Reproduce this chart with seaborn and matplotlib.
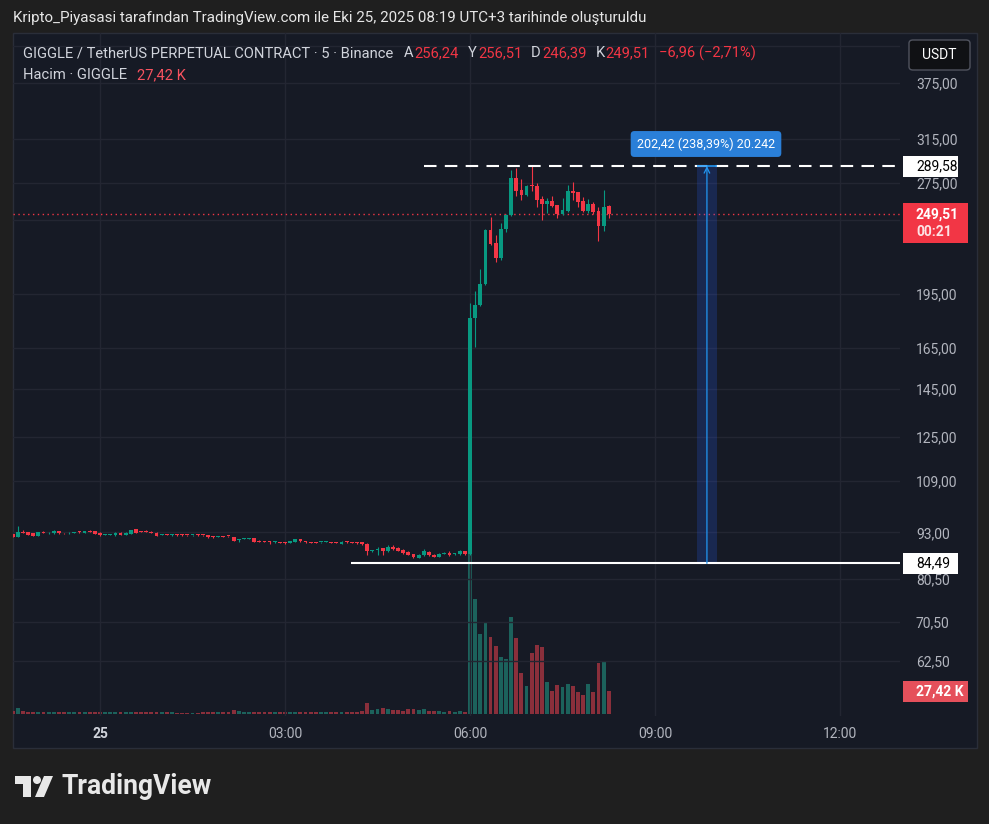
import numpy as np
import pandas as pd
import matplotlib
matplotlib.use('Agg')
import matplotlib.pyplot as plt
import seaborn as sns
from matplotlib.patches import Rectangle, FancyBboxPatch, Polygon, Ellipse

sns.set_theme(style='dark')
plt.rcParams['font.family'] = ['Roboto', 'DejaVu Sans']

W, H = 989, 824
BG = '#1f1f1f'
PANE = '#161a25'
GRID = '#232632'
TXT = '#b2b5be'
LIGHT = '#d1d4dc'
UP = '#089981'
DOWN = '#f23645'
VUP = '#1c625c'
VDOWN = '#8a2f3b'

# GIGGLE/USDT perpetual, 5 min candles from 24 Oct 22:35 (UTC+3)
start = '2025-10-24 22:35'
opens = [
    92.5, 91.8, 93.1, 93.0, 92.7, 92.1, 93.1, 92.7, 92.7, 93.4,
    92.8, 92.7, 92.9, 93.2, 92.9, 93.3, 93.4, 92.9, 92.3, 92.4,
    92.2, 92.9, 92.3, 92.6, 94.0, 93.3, 93.3, 93.2, 92.9, 92.3,
    92.5, 92.3, 92.4, 92.3, 92.3, 92.2, 92.3, 92.3, 92.3, 91.8,
    91.8, 92.0, 92.0, 91.7, 90.9, 91.1, 91.1, 91.4, 90.6, 90.5,
    90.4, 90.2, 90.3, 90.2, 90.0, 90.3, 91.0, 90.5, 90.3, 90.1,
    90.2, 90.3, 90.3, 90.1, 89.7, 90.3, 90.2, 90.2, 90.3, 89.8,
    87.7, 88.1, 88.5, 87.7, 89.0, 88.7, 88.1, 87.6, 87.0, 86.0,
    86.6, 87.6, 86.8, 86.3, 87.1, 87.3, 86.9, 86.9, 87.7,
    86.9, 181.0, 188.0, 200.9, 237.5, 228.0, 217.8, 238.0, 248.9, 279.1,
    268.9, 264.8, 272.5, 272.3, 261.5, 257.5, 260.1, 256.7, 249.6, 252.0,
    268.1, 267.3, 259.9, 252.0, 257.5, 252.0, 240.5, 256.24,
]
highs = [
    92.6, 94.9, 93.6, 93.1, 92.9, 93.2, 93.3, 93.0, 93.6, 93.5,
    92.9, 93.0, 93.2, 93.5, 93.5, 93.6, 93.5, 93.0, 92.6, 92.6,
    93.1, 93.0, 93.0, 93.8, 94.1, 93.4, 93.6, 93.3, 93.1, 92.5,
    92.6, 92.5, 92.5, 92.5, 92.4, 92.4, 92.5, 92.4, 92.4, 91.9,
    92.0, 92.1, 92.1, 91.8, 91.2, 91.3, 91.5, 91.5, 90.8, 90.6,
    90.5, 90.5, 90.4, 90.3, 90.7, 91.2, 91.1, 90.6, 90.4, 90.2,
    90.4, 90.5, 90.4, 90.2, 90.5, 90.6, 90.3, 90.3, 90.4, 89.9,
    88.2, 89.0, 88.6, 89.4, 89.4, 88.8, 88.3, 87.7, 87.1, 87.0,
    88.3, 87.8, 86.9, 87.2, 87.6, 87.8, 87.2, 88.1, 87.8,
    189.6, 196.8, 210.5, 238.5, 247.1, 233.9, 243.0, 250.0, 286.1, 287.9,
    278.3, 273.5, 289.58, 274.6, 264.0, 262.6, 264.0, 257.0, 262.6, 273.1,
    275.7, 267.5, 263.2, 261.5, 259.1, 255.3, 268.9, 256.51,
]
lows = [
    91.7, 91.8, 92.8, 92.2, 92.0, 92.0, 92.8, 92.6, 92.6, 92.6,
    92.6, 92.6, 92.8, 92.9, 92.8, 93.1, 92.5, 92.1, 92.2, 92.3,
    92.1, 92.2, 92.2, 92.5, 92.8, 93.1, 93.0, 92.8, 92.0, 92.2,
    92.2, 92.1, 92.0, 92.1, 92.1, 92.1, 92.1, 92.1, 91.5, 91.5,
    91.7, 91.6, 91.8, 90.6, 90.2, 91.0, 91.0, 90.3, 90.3, 90.3,
    89.8, 90.1, 89.9, 89.7, 89.9, 90.2, 90.4, 90.1, 89.9, 89.9,
    90.1, 90.2, 89.9, 89.9, 89.6, 90.1, 90.0, 89.8, 89.5, 86.6,
    87.6, 86.6, 86.6, 87.6, 88.2, 87.8, 87.1, 86.7, 85.8, 85.9,
    86.5, 86.5, 86.2, 86.2, 87.0, 86.5, 86.8, 86.8, 86.8,
    86.8, 165.4, 187.5, 200.5, 227.0, 215.3, 216.5, 236.0, 248.0, 264.3,
    260.7, 264.0, 268.3, 255.3, 245.1, 250.7, 255.3, 246.8, 248.9, 251.2,
    260.7, 255.3, 251.5, 250.7, 249.6, 229.6, 236.8, 246.39,
]
closes = [
    91.8, 93.1, 92.9, 92.3, 92.1, 93.1, 92.9, 92.9, 93.4, 92.7,
    92.7, 92.9, 93.1, 93.0, 93.4, 93.2, 92.6, 92.2, 92.4, 92.5,
    92.9, 92.3, 92.9, 93.7, 92.9, 93.2, 93.1, 92.9, 92.1, 92.4,
    92.3, 92.4, 92.2, 92.2, 92.2, 92.3, 92.2, 92.2, 91.6, 91.6,
    91.9, 91.8, 91.9, 90.7, 91.1, 91.2, 91.4, 90.4, 90.4, 90.4,
    90.2, 90.4, 90.0, 90.0, 90.6, 91.0, 90.5, 90.2, 90.0, 90.0,
    90.3, 90.4, 90.0, 90.0, 90.3, 90.2, 90.1, 90.1, 89.6, 87.7,
    88.1, 88.3, 87.8, 89.0, 88.3, 87.9, 87.2, 86.8, 86.3, 86.8,
    87.7, 86.6, 86.3, 87.1, 87.3, 86.6, 87.1, 87.7, 86.9,
    181.0, 188.3, 200.9, 237.5, 227.7, 217.8, 238.1, 248.9, 279.1, 268.1,
    264.8, 272.3, 272.0, 260.7, 257.5, 260.1, 256.1, 249.6, 252.8, 268.1,
    266.7, 259.3, 252.0, 257.5, 251.2, 240.5, 255.1, 249.51,
]
# volume in thousands
volumes = [
    3.5, 7.2, 3.6, 2.4, 2.4, 2.4, 2.2, 2.4, 2.6, 2.4,
    2.2, 2.4, 2.4, 2.6, 2.4, 2.2, 2.6, 2.4, 2.2, 2.0,
    2.4, 2.4, 2.6, 3.0, 2.8, 2.2, 2.2, 2.0, 2.4, 2.0,
    2.2, 2.0, 1.8, 1.6, 1.4, 1.6, 1.8, 2.0, 2.6, 2.2,
    2.0, 2.0, 2.2, 4.8, 3.2, 2.4, 2.6, 3.0, 2.4, 2.2,
    2.4, 2.2, 2.4, 2.2, 2.6, 2.8, 2.4, 2.2, 2.4, 2.0,
    2.2, 2.0, 2.4, 2.2, 2.6, 2.2, 2.0, 2.2, 3.2, 13.0,
    5.0, 6.5, 7.5, 6.0, 5.0, 4.5, 4.0, 5.5, 6.0, 5.0,
    5.5, 4.0, 3.5, 4.0, 3.0, 3.5, 3.0, 3.3, 2.7,
    199.0, 138.5, 96.3, 110.8, 92.7, 81.8, 68.5, 66.1, 116.8, 91.4,
    49.2, 33.5, 73.3, 83.0, 80.6, 38.3, 27.4, 34.7, 32.3, 35.9,
    33.5, 26.2, 22.6, 35.9, 26.2, 61.2, 63.7, 27.42,
]

# grid levels of the price scale; 420 and 245 sit under the USDT button / last price tag
price_ticks = [420, 375, 315, 275, 245, 195, 165, 145, 125, 109, 93, 80.5, 70.5, 62.5]
hidden_ticks = [420, 245]
time_ticks = ['2025-10-25 00:00', '2025-10-25 03:00', '2025-10-25 06:00',
              '2025-10-25 09:00', '2025-10-25 12:00']
time_labels = ['25', '03:00', '06:00', '09:00', '12:00']

high_mark = 289.58
low_mark = 84.49
last_price = 249.51
last_vol = 27.42
high_line_from = '2025-10-25 05:15'
low_line_from = '2025-10-25 04:04'
measure_from = '2025-10-25 09:41'
measure_to = '2025-10-25 10:00'

day = pd.Timestamp('2025-10-25')
step = pd.Timedelta(minutes=5)


def to_x(t):
    return (pd.Timestamp(t) - day) / step


def fmt(v):
    return f'{v:.2f}'.replace('.', ',')


df = pd.DataFrame({'open': opens, 'high': highs, 'low': lows,
                   'close': closes, 'volume': volumes})
df['time'] = pd.date_range(start, periods=len(df), freq='5min')
df['x'] = (df['time'] - day) / step
df['dir'] = np.where(df['close'] >= df['open'], 'up', 'down')

x_lo, x_hi = -16.93, 155.67
y_lo, y_hi = 52.64, 437.6

fig = plt.figure(figsize=(W / 100, H / 100), dpi=100, facecolor=BG)
renderer = fig.canvas.get_renderer()

# chart pane
fig.add_artist(Rectangle((13 / W, 1 - 748 / H), 964 / W, 715 / H,
                         transform=fig.transFigure, fc=PANE, ec='#2a2e39',
                         lw=1, zorder=-1))

rect = [13 / W, 1 - 716 / H, 887 / W, 683 / H]
axv = fig.add_axes(rect)
ax = fig.add_axes(rect)
for a in (axv, ax):
    a.set_facecolor('none')
    for s in a.spines.values():
        s.set_visible(False)

# volume overlay
sns.barplot(data=df, x='x', y='volume', hue='dir',
            palette={'up': VUP, 'down': VDOWN}, native_scale=True,
            width=0.75, dodge=False, legend=False, errorbar=None,
            saturation=1, linewidth=0, edgecolor='none', ax=axv)
axv.set_xlim(x_lo, x_hi)
axv.set_ylim(-2.4, 822)
axv.axis('off')

# candles
cols = df['dir'].map({'up': UP, 'down': DOWN}).tolist()
body_lo = df[['open', 'close']].min(axis=1)
body_h = np.maximum((df['close'] - df['open']).abs(), df['close'] * 0.003)
ax.set_yscale('log')
ax.vlines(df['x'], df['low'], df['high'], colors=cols, lw=0.8, zorder=3)
ax.bar(df['x'], body_h, bottom=body_lo, width=0.74, color=cols, lw=0, zorder=3)

ax.set_xlim(x_lo, x_hi)
ax.set_ylim(y_lo, y_hi)
ax.set_yticks(price_ticks,
              labels=['' if v in hidden_ticks else fmt(v) for v in price_ticks])
ax.minorticks_off()
ax.yaxis.tick_right()
ax.set_xticks([to_x(t) for t in time_ticks], labels=time_labels)
ax.tick_params(axis='y', length=0, pad=11.5, labelsize=10, labelcolor=TXT)
ax.tick_params(axis='x', length=0, pad=8, labelsize=10, labelcolor=TXT)
ax.get_xticklabels()[0].set_fontweight('bold')
ax.get_xticklabels()[0].set_color(LIGHT)
ax.grid(True, color=GRID, lw=1)
ax.set_axisbelow(True)
ax.set_xlabel('')
ax.set_ylabel('')

# horizontal drawings
ax.hlines(high_mark, to_x(high_line_from), x_hi - 0.6, colors='white',
          linestyles=(0, (6, 4)), lw=1.5, zorder=4)
ax.hlines(low_mark, to_x(low_line_from), x_hi, colors='white', lw=1.5, zorder=4)
ax.axhline(last_price, color=DOWN, lw=1, ls=(0, (1, 2.5)), zorder=2)

# measure tool
m0, m1 = to_x(measure_from), to_x(measure_to)
mid = (m0 + m1) / 2
ax.add_patch(Rectangle((m0, low_mark), m1 - m0, high_mark - low_mark,
                       fc='#2962ff', alpha=0.2, lw=0, zorder=2))
ax.hlines(high_mark, m0, m1, colors='#2196f3', lw=1.2, zorder=5)
ax.annotate('', xy=(mid, high_mark), xytext=(mid, low_mark),
            arrowprops=dict(arrowstyle='->', color='#2196f3', lw=0.9,
                            shrinkA=0, shrinkB=0, mutation_scale=10), zorder=5)
fig.text(706 / W, 1 - 144 / H, '202,42 (238,39%) 20.242', color='white',
         fontsize=9, ha='center', va='center',
         bbox=dict(boxstyle='round,pad=0.5,rounding_size=0.3', fc='#2a7fd8', ec='none'))


def scale_box(axis, val, lines, fc, right, up, down, bold=False):
    y = axis.transData.transform((0, val))[1]
    fig.add_artist(Rectangle((903 / W, (y - down) / H), (right - 903) / W,
                             (up + down) / H, transform=fig.transFigure,
                             fc=fc, ec='none', zorder=5))
    for i, (s, c) in enumerate(lines):
        fig.text(916 / W, (y - 18 * i) / H, s, color=c, fontsize=10,
                 ha='left', va='center', zorder=6,
                 fontweight='bold' if bold else 'normal')


scale_box(ax, high_mark, [(fmt(high_mark), 'black')], 'white', 958, 10.5, 10.5)
scale_box(ax, low_mark, [(fmt(low_mark), 'black')], 'white', 958, 10.5, 10.5)
scale_box(ax, last_price, [(fmt(last_price), 'white'), ('00:21', '#fde3e5')],
          DOWN, 968, 11, 29, bold=True)
scale_box(axv, last_vol, [(fmt(last_vol) + ' K', 'white')],
          '#e5505b', 968, 10.5, 10.5, bold=True)

# currency button
fig.add_artist(FancyBboxPatch((909 / W, 1 - 70 / H), 61 / W, 30 / H,
                              boxstyle='round,pad=0,rounding_size=0.004',
                              transform=fig.transFigure, fc='#101114',
                              ec='#50535e', lw=1, zorder=5))
fig.text(939.5 / W, 1 - 55 / H, 'USDT', color='white', fontsize=10,
         ha='center', va='center', zorder=6)


def fitted_size(s, width, size=10, **kw):
    t = fig.text(0, 0, s, fontsize=size, **kw)
    w = t.get_window_extent(renderer).width
    t.remove()
    return size * width / w


def chain(parts, x, y, size):
    for s, c, gap in parts:
        t = fig.text(x / W, 1 - y / H, s, color=c, fontsize=size, va='center')
        x = t.get_window_extent(renderer).x1 + gap


title = ('Kripto_Piyasasi tarafından TradingView.com ile Eki 25, 2025 08:19 '
         'UTC+3 tarihinde oluşturuldu')
fig.text(13 / W, 1 - 18 / H, title, color='#e6e6e6', va='center',
         fontsize=fitted_size(title, 635))

sym = 'GIGGLE / TetherUS PERPETUAL CONTRACT · 5 · Binance'
fs = fitted_size(sym, 372)
chain([(sym, LIGHT, 11), ('A', LIGHT, 1), ('256,24', DOWN, 9),
       ('Y', LIGHT, 1), ('256,51', DOWN, 9), ('D', LIGHT, 1),
       ('246,39', DOWN, 9), ('K', LIGHT, 1), ('249,51', DOWN, 9),
       ('−6,96 (−2,71%)', DOWN, 0)], 23, 53, fs)
chain([('Hacim · GIGGLE', LIGHT, 10), ('27,42 K', '#f7525f', 0)], 23, 75, fs)


# TradingView logo
def fpt(x, y):
    return (x / W, 1 - y / H)


logo = '#e8e8e8'
fig.add_artist(Polygon([fpt(15, 776), fpt(31, 776), fpt(31, 797), fpt(23, 797),
                        fpt(23, 784), fpt(15, 784)], closed=True,
                       transform=fig.transFigure, fc=logo, ec='none'))
fig.add_artist(Ellipse(fpt(37, 780), 8 / W, 8 / H, transform=fig.transFigure,
                       fc=logo, ec='none'))
fig.add_artist(Polygon([fpt(44, 776), fpt(53, 776), fpt(44, 797), fpt(35, 797)],
                       closed=True, transform=fig.transFigure, fc=logo, ec='none'))
fig.text(62 / W, 1 - 787 / H, 'TradingView', color=logo, fontweight='bold',
         va='center', fontsize=fitted_size('TradingView', 151, fontweight='bold'))

fig.savefig('out.png', dpi=100, facecolor=BG)
